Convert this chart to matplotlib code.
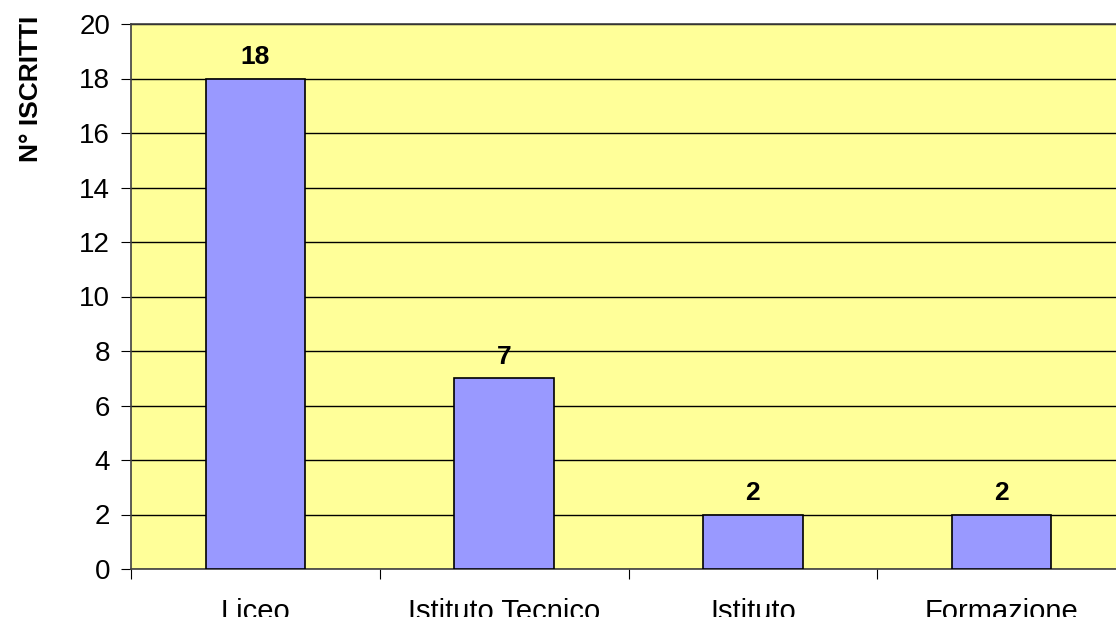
import numpy as np
import matplotlib.pyplot as plt

plt.rcParams['font.family'] = ['Liberation Sans', 'DejaVu Sans']

# dati
categorie = ['Liceo', 'Istituto Tecnico', 'Istituto\nProfessionale', 'Formazione\nProfessionale']
iscritti = [18, 7, 2, 2]

fig = plt.figure(figsize=(11.16, 6.17), dpi=100)
# area del grafico esce un po' oltre il bordo destro, come nell'originale
ax = fig.add_axes([131 / 1116, 48 / 617, 995 / 1116, 545 / 617])
ax.set_facecolor('#FFFF99')

x = np.arange(len(categorie))
ax.bar(x, iscritti, width=0.4, color='#9999FF', edgecolor='black', linewidth=1.2, zorder=3)

for xi, v in zip(x, iscritti):
    ax.annotate(str(v), (xi, v), xytext=(0, 7), textcoords='offset points',
                ha='center', va='bottom', fontsize=19, fontweight='bold')

ax.set_xlim(-0.5, 3.5)
ax.set_ylim(0, 20)
ax.set_yticks(range(0, 21, 2))
ax.yaxis.grid(True, color='black', linewidth=1, zorder=1)

# tacche tra le categorie, etichette al centro
ax.set_xticks(np.arange(-0.5, 3.6, 1))
ax.set_xticklabels([])
ax.set_xticks(x, minor=True)
ax.set_xticklabels(categorie, minor=True, fontsize=21, va='top')
ax.tick_params(axis='x', which='major', length=7, direction='out', color='black')
ax.tick_params(axis='x', which='minor', length=0, pad=21)
ax.tick_params(axis='y', length=7, direction='out', labelsize=20, pad=8)

for s in ['left', 'top', 'bottom']:
    ax.spines[s].set_color('#404040')
    ax.spines[s].set_linewidth(1.2)
ax.spines['right'].set_visible(False)

ax.set_ylabel('N° ISCRITTI', fontsize=19, fontweight='bold')
ax.yaxis.set_label_coords(-88 / 995, 1 - 65 / 545)

fig.savefig('out.png', dpi=100)
